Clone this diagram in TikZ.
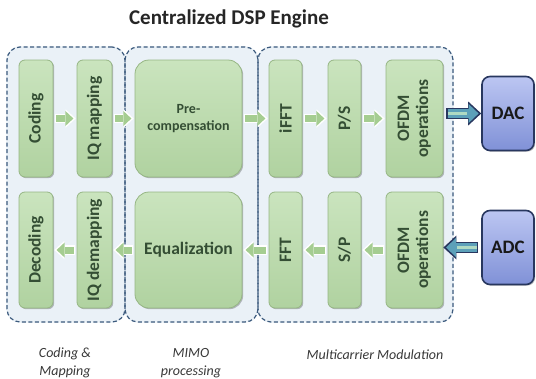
\documentclass[tikz,border=0pt]{standalone}
\usepackage{fontspec}
\usepackage{graphicx}
\setmainfont{Carlito}
\usetikzlibrary{shadows,calc,arrows.meta}
\pgfdeclarelayer{background}
\pgfsetlayers{background,main}
\definecolor{gtop}{RGB}{202,228,190}
\definecolor{gbot}{RGB}{176,210,160}
\definecolor{gborder}{RGB}{150,182,132}
\definecolor{gtext}{RGB}{52,78,52}
\definecolor{garrowc}{RGB}{165,205,145}
\definecolor{dashc}{RGB}{60,90,125}
\definecolor{bgfill}{RGB}{234,241,247}
\definecolor{btop}{RGB}{188,198,242}
\definecolor{bbot}{RGB}{128,145,215}
\definecolor{bborder}{RGB}{40,55,95}
\definecolor{barrowc}{RGB}{92,160,185}
\definecolor{barrowl}{RGB}{175,218,195}
\tikzset{
  grp/.style={draw=dashc, line width=1.2pt, dash pattern=on 4pt off 2.5pt,
    rounded corners=13pt, inner sep=0pt},
  blk/.style={draw=gborder, line width=0.8pt, top color=gtop, bottom color=gbot,
    rounded corners=6pt, inner sep=0pt, text=gtext,
    font=\bfseries\fontsize{17.5}{20}\selectfont,
    drop shadow={shadow xshift=1.2pt, shadow yshift=-1.2pt, opacity=0.25, fill=black}},
  bigblk/.style={blk, rounded corners=14pt, align=center},
  conv/.style={draw=bborder, line width=1.6pt, top color=btop, bottom color=bbot,
    rounded corners=8pt, inner sep=0pt, text=black!90,
    font=\bfseries\fontsize{19}{21}\selectfont,
    drop shadow={shadow xshift=1.2pt, shadow yshift=-1.2pt, opacity=0.25, fill=black}},
  garrow/.style={draw=garrowc, line width=7pt,
    -{Triangle[length=8pt,width=15pt,line width=0pt]},
    shorten <=2.5pt, shorten >=3.2pt,
    preaction={draw=white, line width=9.5pt,
      -{Triangle[length=10pt,width=18.5pt,line width=0pt]},
      shorten <=1.2pt, shorten >=1pt}},
  bigarrow/.style={draw=barrowc, line width=8.5pt,
    -{Triangle[length=10pt,width=19pt,line width=0pt]},
    shorten <=4.5pt, shorten >=2.6pt,
    preaction={draw=bborder, line width=11.5pt,
      -{Triangle[length=13pt,width=24pt,line width=0pt]},
      shorten <=3pt, shorten >=0pt},
    postaction={draw=barrowl, line width=2.5pt, -, shorten <=4.5pt, shorten >=14pt}},
  grplabel/.style={font=\itshape\fontsize{14}{18}\selectfont, text=black!78, align=center},
}
\begin{document}
\begin{tikzpicture}[x=1pt,y=-1pt]
\useasboundingbox (0,0) rectangle (536,378);

% title
\node[font=\bfseries\fontsize{21}{23}\selectfont, text=black!85] (title) at (229,19) {Centralized DSP Engine};

% groups
\node[grp, minimum width=118, minimum height=275] (gcm) at (66,184.5) {};
\node[grp, minimum width=133, minimum height=275] (gmimo) at (191.5,184.5) {};
\node[grp, minimum width=195, minimum height=275] (gmc) at (355.5,184.5) {};
\begin{pgfonlayer}{background}
  \foreach \g in {gcm,gmimo,gmc}
    \fill[bgfill, rounded corners=13pt] (\g.south west) rectangle (\g.north east);
\end{pgfonlayer}

% top row
\node[blk, minimum width=34, minimum height=117] (cod) at (36,118.5) {\rotatebox{90}{Coding}};
\node[blk, minimum width=35, minimum height=117] (iqm) at (94.5,118.5) {\rotatebox{90}{IQ mapping}};
\node[bigblk, minimum width=107, minimum height=117, font=\bfseries\fontsize{14}{17}\selectfont] (pre) at (188.5,118.5) {Pre-\\compensation};
\node[blk, minimum width=33, minimum height=117] (ifft) at (285.5,118.5) {\rotatebox{90}{iFFT}};
\node[blk, minimum width=33, minimum height=117] (ps) at (344.5,118.5) {\rotatebox{90}{P/S}};
\node[blk, minimum width=57, minimum height=117] (ofdmt) at (414.5,118.5)
  {\rotatebox{90}{\begin{tabular}{@{}c@{}}OFDM\\[-1pt]operations\end{tabular}}};
\node[conv, minimum width=52, minimum height=74] (dac) at (508,113.5) {DAC};

% bottom row
\node[blk, minimum width=34, minimum height=116] (dec) at (36,250) {\rotatebox{90}{Decoding}};
\node[blk, minimum width=35, minimum height=116] (iqd) at (94.5,250) {\rotatebox{90}{IQ demapping}};
\node[bigblk, minimum width=107, minimum height=116, font=\bfseries\fontsize{17.5}{20}\selectfont] (eq) at (188.5,250) {Equalization};
\node[blk, minimum width=33, minimum height=116] (fft) at (285.5,250) {\rotatebox{90}{FFT}};
\node[blk, minimum width=33, minimum height=116] (sp) at (344.5,250) {\rotatebox{90}{S/P}};
\node[blk, minimum width=57, minimum height=116] (ofdmb) at (414.5,250)
  {\rotatebox{90}{\begin{tabular}{@{}c@{}}OFDM\\[-1pt]operations\end{tabular}}};
\node[conv, minimum width=52, minimum height=74] (adc) at (508,247.5) {ADC};

% top arrows
\draw[garrow] (cod) -- (iqm);
\draw[garrow] (iqm) -- (pre);
\draw[garrow] (pre) -- (ifft);
\draw[garrow] (ifft) -- (ps);
\draw[garrow] (ps) -- (ofdmt);
\draw[bigarrow] (ofdmt.east |- dac.west) -- (dac.west);

% bottom arrows
\draw[garrow] (iqd) -- (dec);
\draw[garrow] (eq) -- (iqd);
\draw[garrow] (fft) -- (eq);
\draw[garrow] (sp) -- (fft);
\draw[garrow] (ofdmb) -- (sp);
\draw[bigarrow] (adc.west) -- (ofdmb.east |- adc.west);

% group labels
\node[grplabel] (lcm) at (65,363) {Coding \&\\Mapping};
\node[grplabel] (lmimo) at (191,363) {MIMO\\processing};
\node[grplabel] (lmc) at (375,355) {Multicarrier Modulation};
\end{tikzpicture}
\end{document}
